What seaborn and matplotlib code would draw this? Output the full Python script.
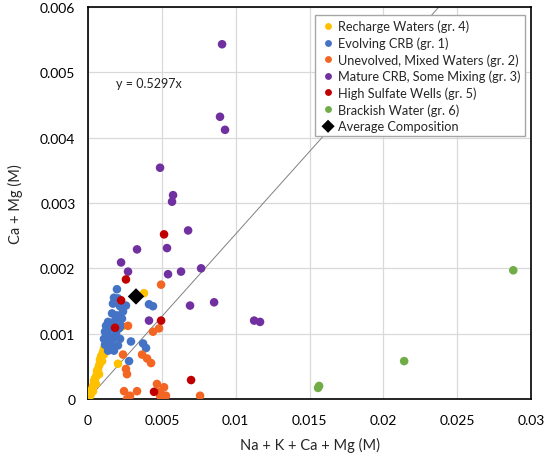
import numpy as np
import pandas as pd
import matplotlib
matplotlib.use("Agg")
import matplotlib.pyplot as plt
import seaborn as sns

# Na + K + Ca + Mg (M) and Ca + Mg (M) per group
recharge_x = [0.00007, 0.00014, 0.0002, 0.0002, 0.00027, 0.00034, 0.00041, 0.00041, 0.00047,
              0.00054, 0.00061, 0.00061, 0.00068, 0.00075, 0.00081, 0.00081, 0.00088, 0.00095,
              0.00102, 0.00108, 0.00122, 0.00136, 0.00149, 0.00108, 0.00203, 0.0023, 0.00379,
              0.00054, 0.00075, 0.00034, 0.00095]
recharge_y = [0.000015, 0.00005, 0.00008, 0.00012, 0.00015, 0.0002, 0.00023, 0.00028, 0.00031,
              0.00034, 0.00038, 0.00043, 0.00046, 0.00051, 0.00055, 0.0006, 0.00065, 0.00068,
              0.00072, 0.00077, 0.0008, 0.00083, 0.00077, 0.00068, 0.00054, 0.00111, 0.00162,
              0.00023, 0.00038, 0.00012, 0.00058]

evolving_x = [0.00196, 0.00176, 0.00169, 0.00217, 0.00257, 0.00237, 0.00196, 0.00183, 0.00136,
              0.0023, 0.00163, 0.00115, 0.00142, 0.00169, 0.00129, 0.00156, 0.00203, 0.00136,
              0.00413, 0.0044, 0.00291, 0.00373, 0.00393, 0.00278, 0.0021, 0.0019, 0.00108,
              0.00217, 0.00149, 0.00203, 0.00163, 0.00122, 0.00224, 0.00115, 0.00176]
evolving_y = [0.00168, 0.00155, 0.00146, 0.00142, 0.00143, 0.00134, 0.00128, 0.0012, 0.00118,
              0.00123, 0.00111, 0.00103, 0.00097, 0.00092, 0.00089, 0.00082, 0.00082, 0.00074,
              0.00145, 0.00142, 0.00088, 0.00085, 0.00078, 0.00058, 0.00108, 0.001, 0.00092,
              0.00092, 0.00108, 0.00154, 0.00131, 0.00112, 0.00112, 0.00083, 0.00074]

unevolved_x = [0.00495, 0.00271, 0.00481, 0.0044, 0.00237, 0.00366, 0.004, 0.00427, 0.00257,
               0.00264, 0.00244, 0.00332, 0.00264, 0.00285, 0.00467, 0.00515, 0.00488, 0.00528,
               0.00488, 0.00759]
unevolved_y = [0.00175, 0.00112, 0.00108, 0.00103, 0.00068, 0.00068, 0.00062, 0.00055, 0.00046,
               0.00038, 0.00012, 0.00012, 0.0, 0.00005, 0.00023, 0.00018, 0.00011, 0.00005,
               0.00005, 0.00005]

mature_x = [0.00908, 0.00894, 0.00928, 0.00488, 0.00576, 0.00569, 0.00678, 0.00332, 0.00535,
            0.00224, 0.00271, 0.00542, 0.0063, 0.00766, 0.00413, 0.00691, 0.00854, 0.01125,
            0.01165]
mature_y = [0.00543, 0.00432, 0.00412, 0.00354, 0.00312, 0.00302, 0.00258, 0.00229, 0.00231,
            0.00209, 0.00195, 0.00191, 0.00195, 0.002, 0.0012, 0.00143, 0.00148, 0.0012,
            0.00118]

sulfate_x = [0.00515, 0.00257, 0.00224, 0.00495, 0.00183, 0.00698, 0.00447]
sulfate_y = [0.00252, 0.00183, 0.00151, 0.0012, 0.00109, 0.00029, 0.00011]

brackish_x = [0.01565, 0.01558, 0.02141, 0.0288]
brackish_y = [0.0002, 0.00017, 0.00058, 0.00197]

avg_x = [0.00325]
avg_y = [0.00157]

trend_slope = 0.2525
trend_label = "y = 0.5297x"

groups = [
    ("Recharge Waters (gr. 4)", recharge_x, recharge_y, "#FFC000"),
    ("Evolving CRB (gr. 1)", evolving_x, evolving_y, "#4472C4"),
    ("Unevolved, Mixed Waters (gr. 2)", unevolved_x, unevolved_y, "#F26522"),
    ("Mature CRB, Some Mixing (gr. 3)", mature_x, mature_y, "#7030A0"),
    ("High Sulfate Wells (gr. 5)", sulfate_x, sulfate_y, "#C00000"),
    ("Brackish Water (gr. 6)", brackish_x, brackish_y, "#70AD47"),
]

df = pd.concat(
    [pd.DataFrame(dict(x=gx, y=gy, group=name)) for name, gx, gy, _ in groups],
    ignore_index=True,
)
palette = {name: c for name, _, _, c in groups}

sns.set_style("white")
plt.rcParams["font.family"] = ["Lato", "DejaVu Sans"]

fig = plt.figure(figsize=(5.45, 4.6), dpi=100)
ax = fig.add_axes([88 / 545, 1 - 400 / 460, (531 - 88) / 545, (400 - 8) / 460])

# trendline (drawn first, beneath the points)
tx = np.array([0, 0.03])
ax.plot(tx, trend_slope * tx, color="#808080", lw=0.7, zorder=1)

sns.scatterplot(
    data=df, x="x", y="y", hue="group", hue_order=list(palette), palette=palette,
    s=38, edgecolor="none", ax=ax, zorder=3,
)
sns.scatterplot(
    x=avg_x, y=avg_y, marker="D", color="black", s=70, edgecolor="none",
    ax=ax, zorder=4, label="Average Composition",
)

ax.text(0.00413, 0.00483, trend_label, ha="center", va="center", fontsize=9, color="#222222")

ax.set_xlim(0, 0.03)
ax.set_ylim(0, 0.006)
ax.set_xticks([0, 0.005, 0.01, 0.015, 0.02, 0.025, 0.03])
ax.set_xticklabels(["0", "0.005", "0.01", "0.015", "0.02", "0.025", "0.03"])
ax.set_yticks([0, 0.001, 0.002, 0.003, 0.004, 0.005, 0.006])
ax.set_yticklabels(["0", "0.001", "0.002", "0.003", "0.004", "0.005", "0.006"])
ax.grid(True, color="#d9d9d9", lw=0.9)
ax.set_axisbelow(True)
for sp in ax.spines.values():
    sp.set_color("black")
    sp.set_linewidth(1.2)
ax.tick_params(axis="both", direction="out", length=4, width=1, labelsize=10,
               colors="black", pad=5)
ax.tick_params(axis="x", pad=7)
ax.set_xlabel("Na + K + Ca + Mg (M)", fontsize=10.5, labelpad=8)
ax.set_ylabel("Ca + Mg (M)", fontsize=10.5, labelpad=12)

leg = ax.legend(
    loc="upper right", bbox_to_anchor=(1.0, 0.995), fontsize=9.2, frameon=True,
    fancybox=False, edgecolor="#a6a6a6", facecolor="white", framealpha=1,
    markerscale=0.8, handletextpad=0.1, labelspacing=0.32, borderpad=0.35,
    handlelength=1.3,
)
leg.get_frame().set_linewidth(1.0)
leg.set_zorder(10)

fig.savefig("out.png", dpi=100)
